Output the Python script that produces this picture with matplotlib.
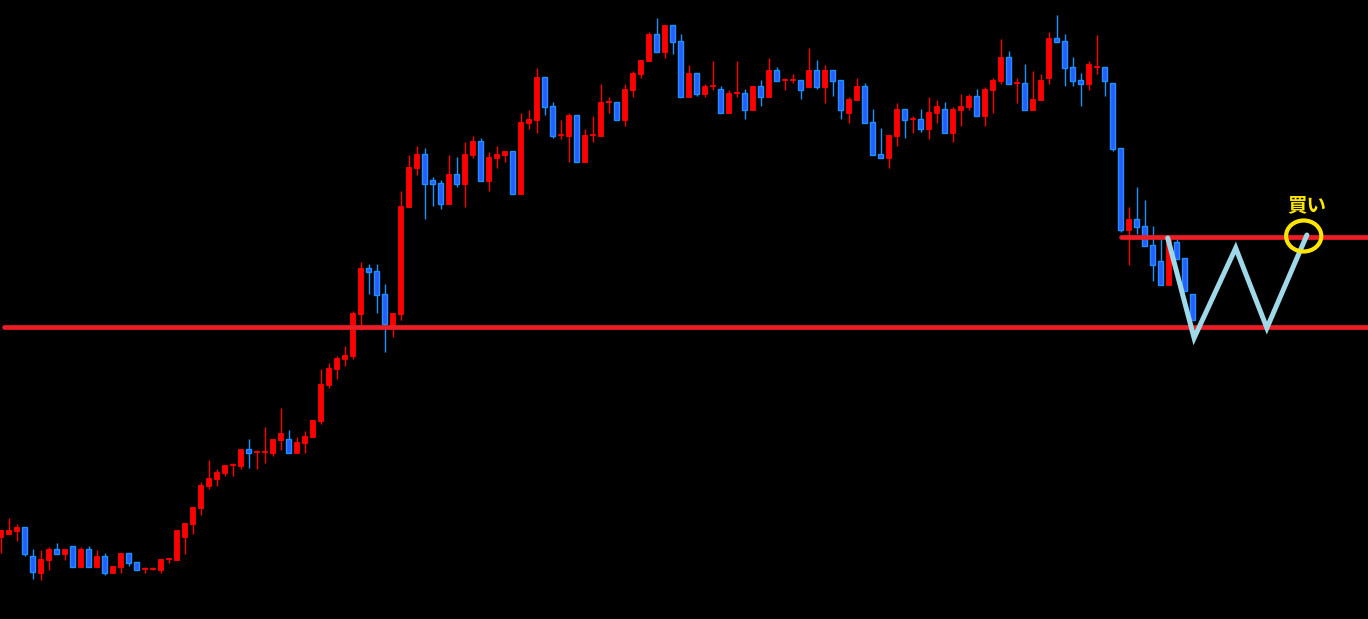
import matplotlib

matplotlib.use("Agg")
import matplotlib.pyplot as plt
from matplotlib.patches import Ellipse
import numpy as np

# --- OHLC (arbitrary price units) ---
opens = [83, 86, 89, 93, 64, 47, 60, 71, 66, 74, 53, 71, 53, 64, 47, 53, 67, 58, 51, 51,
         50, 61, 60, 83, 96, 112, 134, 141, 147, 155, 154, 171, 168, 168, 167, 180, 181, 167, 177, 183,
         199, 235, 251, 261, 264, 306, 352, 349, 326, 294, 306, 413, 452, 466, 440, 437, 416, 446, 436, 465,
         479, 439, 462, 465, 469, 426, 497, 500, 543, 514, 485, 484, 505, 458, 485, 484, 518, 518, 500, 530,
         546, 559, 586, 568, 595, 579, 523, 547, 526, 534, 531, 507, 527, 527, 510, 534, 523, 550, 540, 540,
         540, 533, 550, 533, 550, 540, 507, 520, 534, 498, 466, 462, 484, 511, 501, 501, 491, 507, 511, 487,
         510, 513, 524, 504, 530, 539, 563, 537, 537, 510, 520, 542, 582, 579, 553, 540, 536, 553, 553, 537,
         472, 390, 401, 394, 375, 359, 335, 378, 362, 326]
highs = [90, 102, 96, 93, 71, 70, 73, 77, 71, 74, 73, 74, 70, 67, 54, 67, 67, 58, 53, 53,
         61, 62, 90, 97, 113, 138, 160, 151, 155, 157, 171, 181, 170, 193, 181, 212, 190, 183, 189, 200,
         251, 257, 264, 274, 309, 358, 356, 356, 336, 307, 429, 465, 474, 472, 443, 440, 465, 463, 478, 484,
         482, 468, 474, 469, 469, 507, 510, 552, 543, 518, 500, 507, 505, 491, 504, 536, 523, 518, 536, 549,
         560, 588, 602, 595, 595, 586, 555, 547, 536, 559, 534, 530, 559, 531, 534, 540, 562, 553, 542, 546,
         540, 572, 560, 555, 550, 540, 523, 542, 537, 511, 492, 485, 517, 511, 504, 511, 523, 520, 518, 513,
         526, 526, 531, 533, 542, 581, 569, 542, 556, 549, 546, 588, 605, 586, 563, 547, 559, 585, 553, 537,
         472, 413, 433, 420, 394, 381, 381, 381, 362, 326]
lows = [67, 86, 79, 64, 41, 40, 50, 66, 60, 53, 53, 53, 53, 45, 47, 47, 54, 50, 47, 50,
        47, 57, 60, 66, 86, 105, 131, 134, 144, 144, 151, 152, 151, 157, 164, 170, 167, 167, 167, 183,
        196, 232, 241, 254, 261, 290, 326, 307, 268, 283, 300, 413, 445, 401, 414, 411, 416, 433, 413, 462,
        439, 429, 452, 458, 426, 426, 491, 487, 505, 482, 481, 458, 458, 458, 478, 484, 507, 500, 494, 523,
        542, 559, 568, 562, 566, 523, 523, 524, 523, 530, 507, 507, 523, 501, 510, 514, 523, 539, 530, 537,
        521, 533, 531, 517, 524, 501, 497, 520, 497, 465, 462, 452, 474, 482, 487, 488, 481, 497, 487, 478,
        494, 510, 504, 494, 507, 536, 536, 517, 510, 510, 520, 536, 578, 534, 534, 514, 530, 546, 524, 469,
        388, 355, 386, 374, 339, 335, 335, 361, 329, 300]
closes = [90, 90, 93, 66, 48, 61, 71, 66, 71, 53, 71, 53, 64, 47, 54, 67, 57, 50, 52, 52,
          61, 62, 90, 97, 113, 135, 142, 148, 155, 156, 171, 167, 169, 169, 181, 187, 167, 178, 184, 200,
          236, 252, 262, 265, 307, 352, 348, 325, 296, 307, 414, 453, 466, 436, 436, 416, 446, 436, 466, 479,
          439, 463, 466, 469, 426, 498, 501, 543, 513, 484, 486, 505, 458, 485, 486, 518, 519, 500, 531, 547,
          560, 586, 568, 595, 578, 523, 547, 526, 534, 535, 507, 527, 528, 510, 534, 523, 550, 539, 541, 541,
          530, 550, 533, 550, 539, 510, 521, 534, 497, 465, 462, 485, 511, 500, 502, 491, 508, 514, 487, 511,
          514, 524, 504, 531, 540, 563, 536, 538, 510, 521, 540, 582, 578, 552, 539, 536, 556, 554, 539, 471,
          390, 401, 393, 374, 355, 335, 381, 361, 329, 300]

support_level = 293.5
neckline_level = 383.5
# hand-drawn W (double bottom) sketch: (bar index, price)
w_x = [145.9, 149.2, 154.4, 158.3, 163.3]
w_y = [382, 282, 372, 292, 385]
buy_x, buy_y = 162.9, 384
buy_label = "買い"

o = np.array(opens)
h = np.array(highs)
l = np.array(lows)
c = np.array(closes)
idx = np.arange(len(o))
up = c >= o

RED = "#ff0000"
BLUE_FILL = "#2a5bff"
BLUE_EDGE = "#1e90ff"

fig = plt.figure(figsize=(13.68, 6.19), dpi=100, facecolor="black")
ax = fig.add_axes([0, 0, 1, 1], facecolor="black")

# wicks
ax.vlines(idx[up], l[up], h[up], color=RED, linewidth=1.0, zorder=2)
ax.vlines(idx[~up], l[~up], h[~up], color=BLUE_EDGE, linewidth=1.0, zorder=2)

# bodies
body_h = np.maximum(np.abs(c - o), 1.2)
body_b = np.minimum(o, c)
ax.bar(idx[up], body_h[up], bottom=body_b[up], width=0.6, color=RED,
       edgecolor=RED, linewidth=0.6, zorder=3)
ax.bar(idx[~up], body_h[~up], bottom=body_b[~up], width=0.6, color=BLUE_FILL,
       edgecolor=BLUE_EDGE, linewidth=1.0, zorder=3)

# horizontal levels
ax.plot([0.45, 171], [support_level, support_level], color="#ee1c25",
        linewidth=3.4, solid_capstyle="round", zorder=4)
ax.plot([140.0, 171], [neckline_level, neckline_level], color="#ee1c25",
        linewidth=3.4, solid_capstyle="round", zorder=4)

# W sketch
ax.plot(w_x, w_y, color="#9fd8e8", linewidth=3.6, solid_capstyle="round",
        solid_joinstyle="miter", zorder=5)

# buy marker
ax.add_patch(Ellipse((buy_x, buy_y), width=4.4, height=31, fill=False,
                     edgecolor="#ffe600", linewidth=3.0, zorder=6))
ax.text(buy_x + 0.4, buy_y + 30, buy_label, color="#ffe600", fontsize=14,
        fontweight="bold", family=["Noto Sans CJK JP", "DejaVu Sans"],
        ha="center", va="center", zorder=6)

ax.set_xlim(-0.0625, 1368 / 8 - 0.0625)
ax.set_ylim(1, 620)
ax.axis("off")

fig.savefig("out.png", dpi=100, facecolor="black")
